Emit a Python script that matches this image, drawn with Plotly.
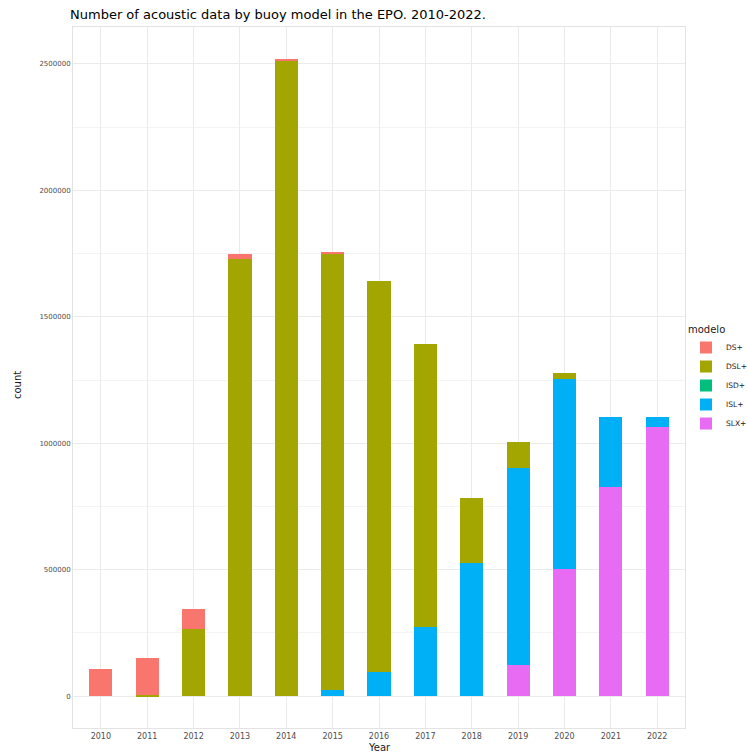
import plotly.graph_objects as go

years = ["2010", "2011", "2012", "2013", "2014", "2015", "2016",
         "2017", "2018", "2019", "2020", "2021", "2022"]

# counts per buoy model
ds_plus = [107000, 146000, 79000, 20000, 3000, 3000, 0, 0, 0, 0, 0, 0, 0]
dsl = [0, 4000, 265000, 1727000, 2515000, 1728000, 1545000, 1118000, 257000, 103000, 24000, 0, 0]
isd = [0, 0, 0, 0, 0, 0, 0, 0, 0, 0, 0, 0, 0]
isl = [0, 0, 0, 0, 0, 24000, 95000, 273000, 526000, 778000, 751000, 277000, 40000]
slx = [0, 0, 0, 0, 0, 0, 0, 0, 0, 123000, 502000, 826000, 1063000]

models = ["DS+", "DSL+", "ISD+", "ISL+", "SLX+"]
colors = ["#F8766D", "#A3A500", "#00BF7D", "#00B0F6", "#E76BF3"]
series = [ds_plus, dsl, isd, isl, slx]

y_ticks = [0, 500000, 1000000, 1500000, 2000000, 2500000]

fig = go.Figure()
# plotly stacks the first trace at the bottom; ggplot puts first level on top
for name, col, vals in reversed(list(zip(models, colors, series))):
    fig.add_trace(go.Bar(x=years, y=vals, name=name, marker_color=col,
                         marker_line_width=0, width=0.5))

W, H = 747, 753
ml, mr, mt, mb = 73, 62, 27, 25

fig.update_layout(
    width=W, height=H,
    margin=dict(l=ml, r=mr, t=mt, b=mb, autoexpand=False),
    barmode="stack",
    plot_bgcolor="white", paper_bgcolor="white",
    font=dict(family="DejaVu Sans", color="#4D4D4D", size=8),
    showlegend=True,
    legend=dict(title=dict(text="modelo", font=dict(size=10, color="#1A1A1A")),
                traceorder="reversed", xref="container", yref="container",
                x=686 / W, xanchor="left", y=1 - 320 / H, yanchor="top",
                font=dict(size=7.5, color="#1A1A1A"), itemwidth=30,
                tracegroupgap=0, bgcolor="rgba(0,0,0,0)"),
    title=dict(text="Number of acoustic data by buoy model in the EPO. 2010-2022.",
               x=70 / W, xanchor="left", y=1 - 14 / H, yanchor="middle",
               font=dict(size=13, color="#000000")),
)

fig.update_xaxes(
    type="category", showgrid=True, gridcolor="#EBEBEB", gridwidth=1,
    showline=True, mirror=True, linecolor="#E3E3E3", linewidth=1,
    ticks="", tickfont=dict(size=8, color="#4D4D4D"), automargin=False,
    range=[-0.6, 12.6], fixedrange=True,
)
fig.update_yaxes(
    range=[-126000, 2646000], tickvals=y_ticks, ticktext=[str(v) for v in y_ticks],
    showgrid=True, gridcolor="#EBEBEB", gridwidth=1, zeroline=False,
    minor=dict(dtick=250000, tick0=0, showgrid=True, gridcolor="#F4F4F4", gridwidth=0.6),
    showline=True, mirror=True, linecolor="#E3E3E3", linewidth=1,
    ticks="", tickfont=dict(size=7, color="#4D4D4D"), automargin=False,
)

fig.add_annotation(text="count", xref="paper", yref="paper", x=-(ml - 17) / (W - ml - mr),
                   y=(H - mb - 385) / (H - mt - mb), textangle=-90, showarrow=False,
                   font=dict(size=10, color="#1A1A1A"), xanchor="center", yanchor="middle")
fig.add_annotation(text="Year", xref="paper", yref="paper", x=0.5,
                   y=-(748 - (H - mb)) / (H - mt - mb), showarrow=False,
                   font=dict(size=10, color="#1A1A1A"), xanchor="center", yanchor="middle")

fig.write_html("out.html")
